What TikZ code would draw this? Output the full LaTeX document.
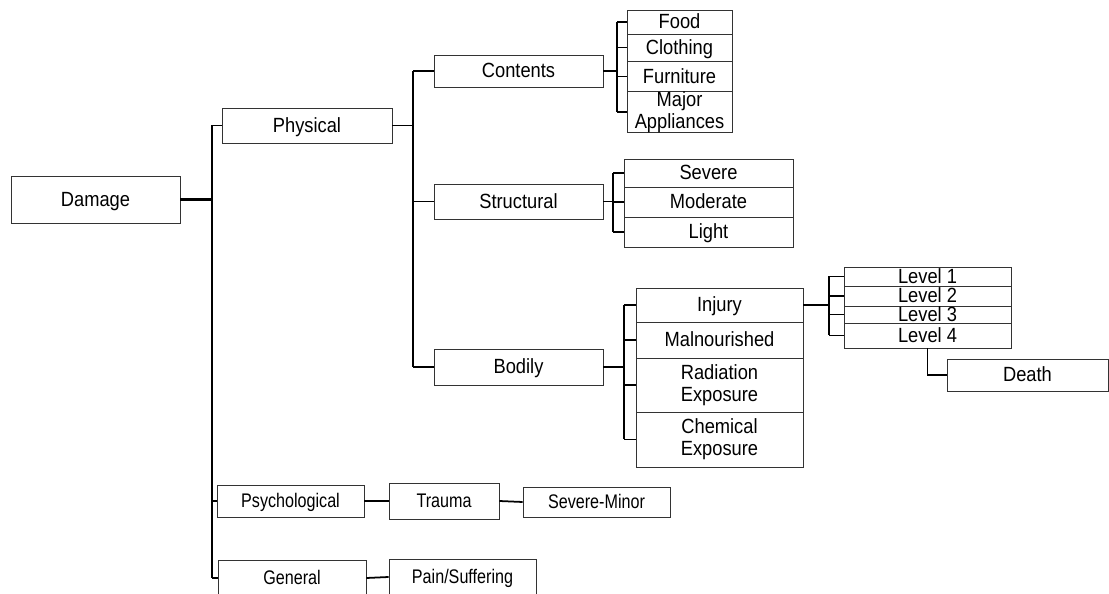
\documentclass[tikz,border=0pt]{standalone}
\usepackage{fontspec}
\setmainfont{Liberation Sans}
\newfontfamily\boxfont[FakeStretch=0.89]{Liberation Sans}
\newfontfamily\lowfont[FakeStretch=0.82]{Liberation Sans}
\usepackage{tikz}
\tikzset{
  basebox/.style={draw=black!80,line width=0.5pt,fill=white,inner sep=0pt,align=center,font=\boxfont\fontsize{11.7}{12.6}\selectfont},
  itembox/.style={basebox,text height=0.78em,text depth=0.02em},
  lowbox/.style={itembox,font=\lowfont\fontsize{11.2}{12}\selectfont},
  buswire/.style={line width=1pt},
  mainwire/.style={line width=1.6pt}
}

\begin{document}
\begin{tikzpicture}[x=0.02cm,y=-0.02cm]
  \clip (0,0) rectangle (1109,594);
  % first level
  \node[itembox,minimum width=3.38cm,minimum height=0.94cm] (damage) at (95.5,199.5) {Damage};
  \node[itembox,minimum width=3.40cm,minimum height=0.70cm] (physical) at (307,125.5) {Physical};
  \node[lowbox,minimum width=2.94cm,minimum height=0.64cm] (psych) at (290.5,501) {Psychological};
  \node[lowbox,minimum width=2.96cm,minimum height=0.72cm] (general) at (292,578) {General};
  % physical
  \node[itembox,minimum width=3.38cm,minimum height=0.64cm] (contents) at (518.5,71) {Contents};
  \node[itembox,minimum width=3.38cm,minimum height=0.70cm] (structural) at (518.5,201.5) {Structural};
  \node[itembox,minimum width=3.38cm,minimum height=0.72cm] (bodily) at (518.5,367) {Bodily};
  % contents
  \node[itembox,minimum width=2.10cm,minimum height=0.48cm] (food) at (679.5,22) {Food};
  \node[itembox,minimum width=2.10cm,minimum height=0.54cm] (clothing) at (679.5,47.5) {Clothing};
  \node[itembox,minimum width=2.10cm,minimum height=0.62cm] (furniture) at (679.5,76.5) {Furniture};
  \node[basebox,minimum width=2.10cm,minimum height=0.80cm] (major) at (679.5,112) {Major\\Appliances};
  % structural
  \node[itembox,minimum width=3.38cm,minimum height=0.56cm] (severe) at (708.5,173) {Severe};
  \node[itembox,minimum width=3.38cm,minimum height=0.60cm] (moderate) at (708.5,202) {Moderate};
  \node[itembox,minimum width=3.38cm,minimum height=0.60cm] (light) at (708.5,232) {Light};
  % bodily
  \node[itembox,minimum width=3.34cm,minimum height=0.68cm] (injury) at (719.5,305) {Injury};
  \node[itembox,minimum width=3.34cm,minimum height=0.72cm] (malnour) at (719.5,340) {Malnourished};
  \node[basebox,minimum width=3.34cm,minimum height=1.08cm] (radiation) at (719.5,385) {Radiation\\Exposure};
  \node[basebox,minimum width=3.34cm,minimum height=1.10cm] (chemical) at (719.5,439.5) {Chemical\\Exposure};
  % injury
  \node[itembox,minimum width=3.34cm,minimum height=0.38cm] (levela) at (927.5,276.5) {Level 1};
  \node[itembox,minimum width=3.34cm,minimum height=0.40cm] (levelb) at (927.5,296) {Level 2};
  \node[itembox,minimum width=3.34cm,minimum height=0.34cm] (levelc) at (927.5,314.5) {Level 3};
  \node[itembox,minimum width=3.34cm,minimum height=0.50cm] (leveld) at (927.5,335.5) {Level 4};
  \node[itembox,minimum width=3.22cm,minimum height=0.64cm] (death) at (1027.5,375) {Death};
  % psychological, general
  \node[lowbox,minimum width=2.20cm,minimum height=0.72cm] (trauma) at (444,501) {Trauma};
  \node[lowbox,minimum width=2.94cm,minimum height=0.60cm] (sevminor) at (596.5,502) {Severe-Minor};
  \node[lowbox,minimum width=2.94cm,minimum height=0.72cm] (pain) at (462.5,577) {Pain/Suffering};

  \coordinate (busa) at (212,200);
  \coordinate (busb) at (413,126);
  \coordinate (busc) at (617,71);
  \coordinate (busd) at (613,201);
  \coordinate (buse) at (624,367);
  \coordinate (busf) at (829,305);

  \draw[mainwire] (damage.east) -- (damage.east -| busa);
  \draw[buswire] (busa |- physical.west) -- (busa |- general.west);
  \draw[buswire] (busa |- physical.west) -- (physical.west);
  \draw[buswire] (busa |- psych.west) -- (psych.west);
  \draw[buswire] (busa |- general.west) -- (general.west);

  \draw[buswire] (physical.east) -- (physical.east -| busb);
  \draw[buswire] (busb |- contents.west) -- (busb |- bodily.west);
  \draw[buswire] (busb |- contents.west) -- (contents.west);
  \draw[buswire] (busb |- structural.west) -- (structural.west);
  \draw[buswire] (busb |- bodily.west) -- (bodily.west);

  \draw[mainwire] (contents.east) -- (contents.east -| busc);
  \draw[buswire] (busc |- food.west) -- (busc |- major.west);
  \draw[buswire] (busc |- food.west) -- (food.west);
  \draw[buswire] (busc |- clothing.west) -- (clothing.west);
  \draw[buswire] (busc |- furniture.west) -- (furniture.west);
  \draw[buswire] (busc |- major.west) -- (major.west);

  \draw[buswire] (structural.east) -- (structural.east -| busd);
  \draw[buswire] (busd |- severe.west) -- (busd |- light.west);
  \draw[buswire] (busd |- severe.west) -- (severe.west);
  \draw[buswire] (busd |- moderate.west) -- (moderate.west);
  \draw[buswire] (busd |- light.west) -- (light.west);

  \draw[mainwire] (bodily.east) -- (bodily.east -| buse);
  \draw[buswire] (buse |- injury.west) -- (buse |- chemical.west);
  \draw[buswire] (buse |- injury.west) -- (injury.west);
  \draw[buswire] (buse |- malnour.west) -- (malnour.west);
  \draw[buswire] (buse |- radiation.west) -- (radiation.west);
  \draw[buswire] (buse |- chemical.west) -- (chemical.west);

  \draw[mainwire] (injury.east) -- (injury.east -| busf);
  \draw[buswire] (busf |- levela.west) -- (busf |- leveld.west);
  \draw[buswire] (busf |- levela.west) -- (levela.west);
  \draw[buswire] (busf |- levelb.west) -- (levelb.west);
  \draw[buswire] (busf |- levelc.west) -- (levelc.west);
  \draw[buswire] (busf |- leveld.west) -- (leveld.west);
  \draw[buswire] (leveld.south) |- (death.west);

  \draw[buswire] (psych.east) -- (trauma.west);
  \draw[buswire] (trauma.east) -- (sevminor.west);
  \draw[buswire] (general.east) -- (pain.west);
\end{tikzpicture}
\end{document}
